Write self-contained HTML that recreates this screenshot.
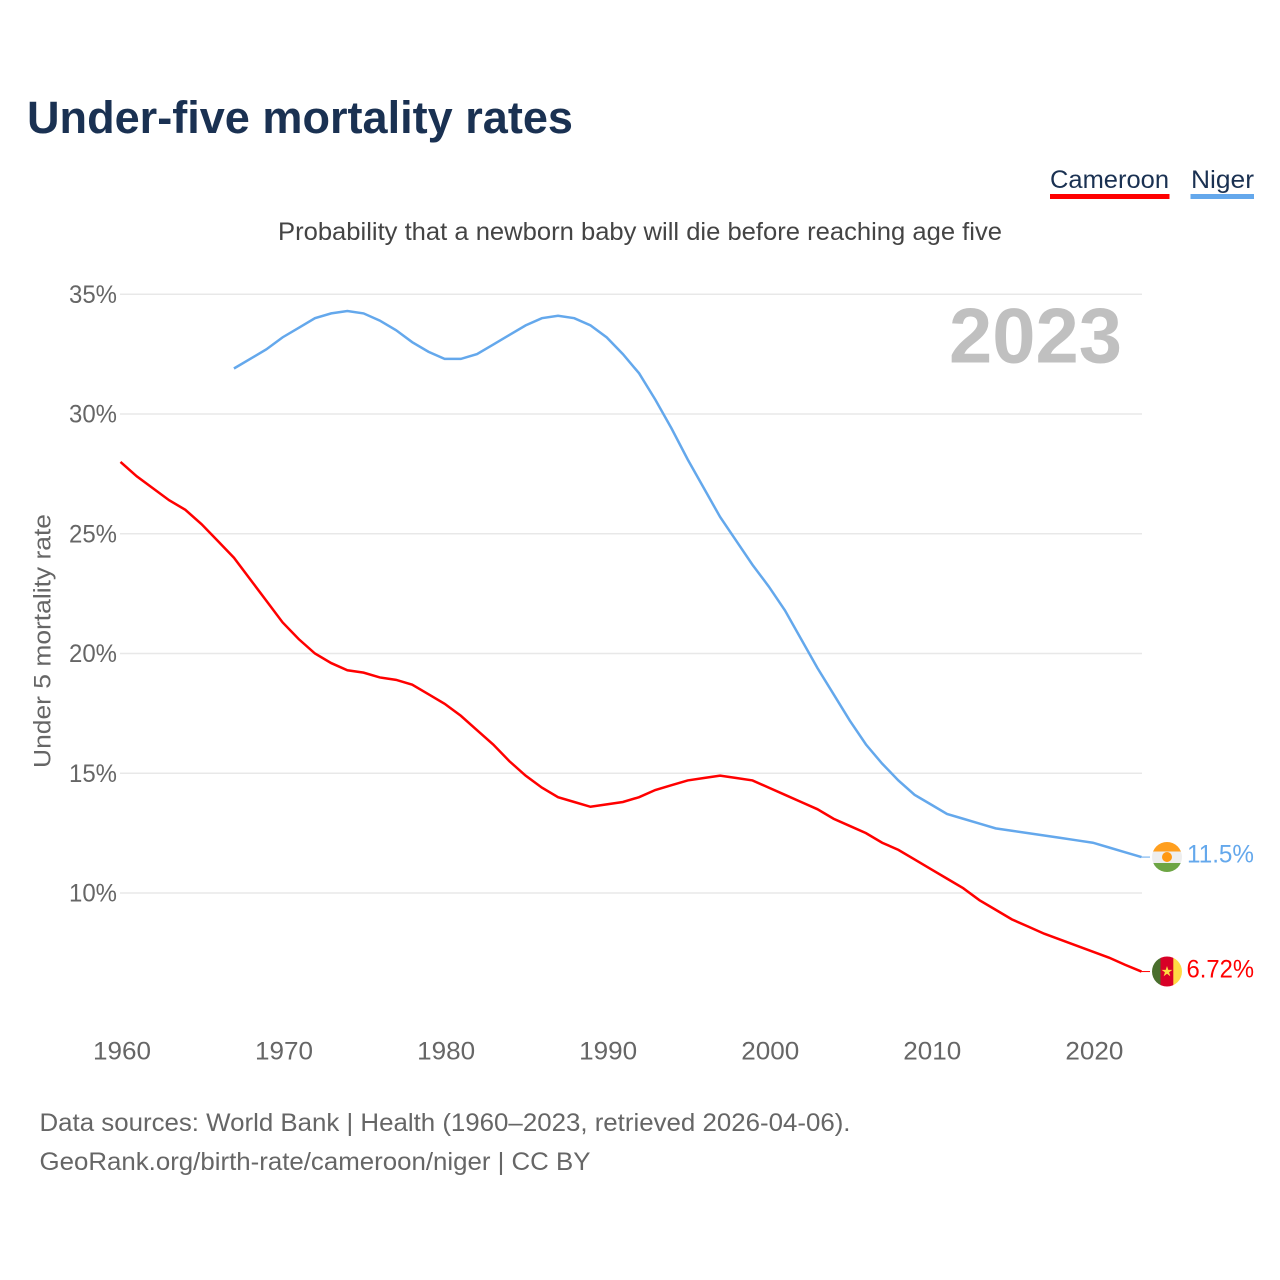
<!DOCTYPE html>
<html lang="en">
<head>
<meta charset="utf-8">
<title>Under-five mortality rates</title>
<style>
html,body{margin:0;padding:0;background:#fff;}
svg{display:block;font-family:"Liberation Sans",sans-serif;}
</style>
</head>
<body>
<svg id="chart" width="1280" height="1280" viewBox="0 0 1280 1280" xmlns="http://www.w3.org/2000/svg">
  <defs>
    <clipPath id="clip-niger"><circle cx="1167" cy="857" r="15"/></clipPath>
    <clipPath id="clip-cameroon"><circle cx="1167" cy="971.5" r="15"/></clipPath>
  </defs>
  <rect width="1280" height="1280" fill="#fff"/>
  <text x="27" y="133" font-size="45" font-weight="700" fill="#1a3152" textLength="546" lengthAdjust="spacingAndGlyphs">Under-five mortality rates</text>
  <text x="1050" y="188" font-size="25" fill="#1a3152" textLength="119" lengthAdjust="spacingAndGlyphs">Cameroon</text>
  <rect x="1050" y="194" width="119.500" height="5" fill="#ff0000"/>
  <text x="1191" y="188" font-size="25" fill="#1a3152" textLength="63" lengthAdjust="spacingAndGlyphs">Niger</text>
  <rect x="1190.500" y="194" width="63.500" height="5" fill="#64a8ec"/>
  <text x="278" y="240" font-size="25" fill="#444" textLength="724" lengthAdjust="spacingAndGlyphs">Probability that a newborn baby will die before reaching age five</text>
  <g id="grid"></g>
  <g id="y-ticks"></g>
  <g id="x-ticks"></g>
  <text transform="translate(50.500,768) rotate(-90)" font-size="24" fill="#666" textLength="254" lengthAdjust="spacingAndGlyphs">Under 5 mortality rate</text>
  <text x="949" y="362.500" font-size="78" font-weight="700" fill="#c0c0c0" textLength="173" lengthAdjust="spacingAndGlyphs">2023</text>
  <g id="series"></g>

  <g clip-path="url(#clip-niger)">
    <rect x="1152" y="842" width="30" height="9.500" fill="#ff9f1f"/>
    <rect x="1152" y="851.500" width="30" height="11.500" fill="#eeeeee"/>
    <rect x="1152" y="863" width="30" height="9" fill="#6da544"/>
    <circle cx="1167" cy="857" r="5" fill="#ff9811"/>
  </g>
  <g clip-path="url(#clip-cameroon)">
    <rect x="1152" y="956.500" width="9" height="30" fill="#496e2d"/>
    <rect x="1160.500" y="956.500" width="13" height="30" fill="#d80027"/>
    <rect x="1173.300" y="956.500" width="9" height="30" fill="#ffda44"/>
    <polygon points="1167,966 1168.300,969.900 1172.400,969.900 1169.100,972.300 1170.300,976.200 1167,973.800 1163.700,976.200 1164.900,972.300 1161.600,969.900 1165.700,969.900" fill="#ffda44"/>
  </g>
  <text x="1187" y="862.500" font-size="25" fill="#64a8ec" textLength="67" lengthAdjust="spacingAndGlyphs">11.5%</text>
  <text x="1186.500" y="977.500" font-size="25" fill="#ff0000" textLength="67.500" lengthAdjust="spacingAndGlyphs">6.72%</text>

  <text x="39.500" y="1131" font-size="25" fill="#666" textLength="811" lengthAdjust="spacingAndGlyphs">Data sources: World Bank | Health (1960–2023, retrieved 2026-04-06).</text>
  <text x="39.500" y="1170" font-size="25" fill="#666" textLength="551" lengthAdjust="spacingAndGlyphs">GeoRank.org/birth-rate/cameroon/niger | CC BY</text>
</svg>
<script>
const yTickValues = [10, 15, 20, 25, 30, 35];
const xTickYears = [1960, 1970, 1980, 1990, 2000, 2010, 2020];
const cameroonStartYear = 1960;
const cameroonValues = [28.0,27.4,26.9,26.4,26.0,25.4,24.7,24.0,23.1,22.2,21.3,20.6,20.0,19.6,19.3,19.2,19.0,18.9,18.7,18.3,17.9,17.4,16.8,16.2,15.5,14.9,14.4,14.0,13.8,13.6,13.7,13.8,14.0,14.3,14.5,14.7,14.8,14.9,14.8,14.7,14.4,14.1,13.8,13.5,13.1,12.8,12.5,12.1,11.8,11.4,11.0,10.6,10.2,9.7,9.3,8.9,8.6,8.3,8.05,7.8,7.55,7.3,7.0,6.72];
const nigerStartYear = 1967;
const nigerValues = [31.9,32.3,32.7,33.2,33.6,34.0,34.2,34.3,34.2,33.9,33.5,33.0,32.6,32.3,32.3,32.5,32.9,33.3,33.7,34.0,34.1,34.0,33.7,33.2,32.5,31.7,30.6,29.4,28.1,26.9,25.7,24.7,23.7,22.8,21.8,20.6,19.4,18.3,17.2,16.2,15.4,14.7,14.1,13.7,13.3,13.1,12.9,12.7,12.6,12.5,12.4,12.3,12.2,12.1,11.9,11.7,11.5];

const NS = 'http://www.w3.org/2000/svg';
const xScale = function (year) { return 120.5 + (year - 1960) * 16.206; };
const yScale = function (value) { return 893 - (value - 10) * 23.95; };

const gridGroup = document.getElementById('grid');
const yTickGroup = document.getElementById('y-ticks');
const xTickGroup = document.getElementById('x-ticks');
const seriesGroup = document.getElementById('series');

yTickValues.forEach(function (v) {
  const line = document.createElementNS(NS, 'line');
  line.setAttribute('x1', 120);
  line.setAttribute('x2', 1142);
  line.setAttribute('y1', yScale(v));
  line.setAttribute('y2', yScale(v));
  line.setAttribute('stroke', '#e8e8e8');
  line.setAttribute('stroke-width', 1.5);
  
  
  gridGroup.appendChild(line);

  const label = document.createElementNS(NS, 'text');
  label.setAttribute('x', 69);
  label.setAttribute('y', yScale(v) + 8.5);
  label.setAttribute('font-size', 25);
  label.setAttribute('fill', '#666');
  label.setAttribute('textLength', 48);
  label.setAttribute('lengthAdjust', 'spacingAndGlyphs');
  
  
  label.textContent = v + '%';
  yTickGroup.appendChild(label);
});

xTickYears.forEach(function (year) {
  const label = document.createElementNS(NS, 'text');
  label.setAttribute('x', xScale(year) - 27.5);
  label.setAttribute('y', 1059.5);
  label.setAttribute('font-size', 25);
  label.setAttribute('fill', '#666');
  label.setAttribute('textLength', 58);
  label.setAttribute('lengthAdjust', 'spacingAndGlyphs');
  
  
  label.textContent = year;
  xTickGroup.appendChild(label);
});

function seriesPoints(startYear, values) {
  return values.map(function (v, i) {
    return xScale(startYear + i).toFixed(2) + ',' + yScale(v).toFixed(2);
  }).join(' ');
}

const cameroonLine = document.createElementNS(NS, 'polyline');
cameroonLine.setAttribute('points', seriesPoints(cameroonStartYear, cameroonValues));
cameroonLine.setAttribute('fill', 'none');
cameroonLine.setAttribute('stroke', '#ff0000');
cameroonLine.setAttribute('stroke-width', 2.5);


seriesGroup.appendChild(cameroonLine);

const nigerLine = document.createElementNS(NS, 'polyline');
nigerLine.setAttribute('points', seriesPoints(nigerStartYear, nigerValues));
nigerLine.setAttribute('fill', 'none');
nigerLine.setAttribute('stroke', '#64a8ec');
nigerLine.setAttribute('stroke-width', 2.5);


seriesGroup.appendChild(nigerLine);

const cameroonLead = document.createElementNS(NS, 'line');
cameroonLead.setAttribute('x1', xScale(2023));
cameroonLead.setAttribute('x2', 1150);
cameroonLead.setAttribute('y1', yScale(cameroonValues[cameroonValues.length - 1]));
cameroonLead.setAttribute('y2', yScale(cameroonValues[cameroonValues.length - 1]));
cameroonLead.setAttribute('stroke', '#ff0000');
cameroonLead.setAttribute('stroke-width', 1);


seriesGroup.appendChild(cameroonLead);

const nigerLead = document.createElementNS(NS, 'line');
nigerLead.setAttribute('x1', xScale(2023));
nigerLead.setAttribute('x2', 1150);
nigerLead.setAttribute('y1', yScale(nigerValues[nigerValues.length - 1]));
nigerLead.setAttribute('y2', yScale(nigerValues[nigerValues.length - 1]));
nigerLead.setAttribute('stroke', '#64a8ec');
nigerLead.setAttribute('stroke-width', 1);


seriesGroup.appendChild(nigerLead);
</script>
</body>
</html>
